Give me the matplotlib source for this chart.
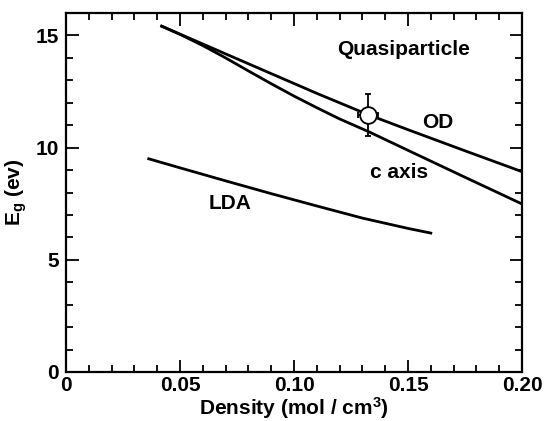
import matplotlib
matplotlib.use("Agg")
import matplotlib.pyplot as plt
from matplotlib.ticker import MultipleLocator

plt.rcParams["font.family"] = ["Liberation Sans", "DejaVu Sans"]
plt.rcParams["font.weight"] = "bold"
plt.rcParams["mathtext.fontset"] = "custom"
plt.rcParams["mathtext.rm"] = "Liberation Sans:bold"
plt.rcParams["mathtext.bf"] = "Liberation Sans:bold"
plt.rcParams["mathtext.it"] = "Liberation Sans:bold"

# curves
od_density = [0.0414, 0.05, 0.07, 0.09, 0.11, 0.1323, 0.15, 0.175, 0.200]
od_gap = [15.44, 15.06, 14.18, 13.30, 12.42, 11.48, 10.80, 9.86, 8.93]

caxis_density = [0.0414, 0.05, 0.06, 0.07, 0.08, 0.09, 0.10, 0.11, 0.12, 0.133, 0.15, 0.175, 0.200]
caxis_gap = [15.44, 15.05, 14.55, 14.00, 13.42, 12.85, 12.30, 11.78, 11.28, 10.70, 9.88, 8.68, 7.49]

lda_density = [0.0357, 0.05, 0.07, 0.09, 0.11, 0.13, 0.15, 0.1606]
lda_gap = [9.52, 9.10, 8.52, 7.95, 7.40, 6.86, 6.40, 6.18]

# measured point
point_density = 0.1323
point_gap = 11.45
point_xerr = 0.0044
point_yerr = 0.93

fig = plt.figure(figsize=(5.47, 4.21), dpi=100)
ax = fig.add_axes([0.1207, 0.1164, 0.8336, 0.8526])

for xs, ys in [(od_density, od_gap), (caxis_density, caxis_gap), (lda_density, lda_gap)]:
    ax.plot(xs, ys, color="black", lw=2.0, solid_capstyle="butt", solid_joinstyle="round")

ax.errorbar(point_density, point_gap, xerr=point_xerr, yerr=point_yerr,
            fmt="o", ms=12, mfc="white", mec="black", mew=1.3,
            ecolor="black", elinewidth=1.3, capsize=2.5, capthick=1.3, zorder=5)

ax.text(0.148, 14.39, "Quasiparticle", ha="center", va="center", fontsize=15, fontweight="bold")
ax.text(0.163, 11.1, "OD", ha="center", va="center", fontsize=15, fontweight="bold")
ax.text(0.146, 8.88, "c axis", ha="center", va="center", fontsize=15, fontweight="bold")
ax.text(0.072, 7.51, "LDA", ha="center", va="center", fontsize=15, fontweight="bold")

ax.set_xlim(0, 0.2)
ax.set_ylim(0, 16)
ax.set_xticks([0, 0.05, 0.10, 0.15, 0.20])
ax.set_xticklabels(["0", "0.05", "0.10", "0.15", "0.20"])
ax.set_yticks([0, 5, 10, 15])
ax.xaxis.set_minor_locator(MultipleLocator(0.01))
ax.yaxis.set_minor_locator(MultipleLocator(1))
ax.tick_params(which="both", direction="in", top=True, right=True, labelsize=15, width=1.3)
ax.tick_params(which="major", length=9)
ax.tick_params(which="minor", length=5)
ax.tick_params(axis="x", which="major", pad=3)
ax.tick_params(axis="y", which="major", pad=5)
for spine in ax.spines.values():
    spine.set_linewidth(1.6)

ax.set_xlabel(r"Density (mol / cm$^3$)", fontsize=15, fontweight="bold", labelpad=0)
ax.set_ylabel(r"E$_g$ (ev)", fontsize=15, fontweight="bold", labelpad=5)

fig.savefig("out.png", dpi=100)
